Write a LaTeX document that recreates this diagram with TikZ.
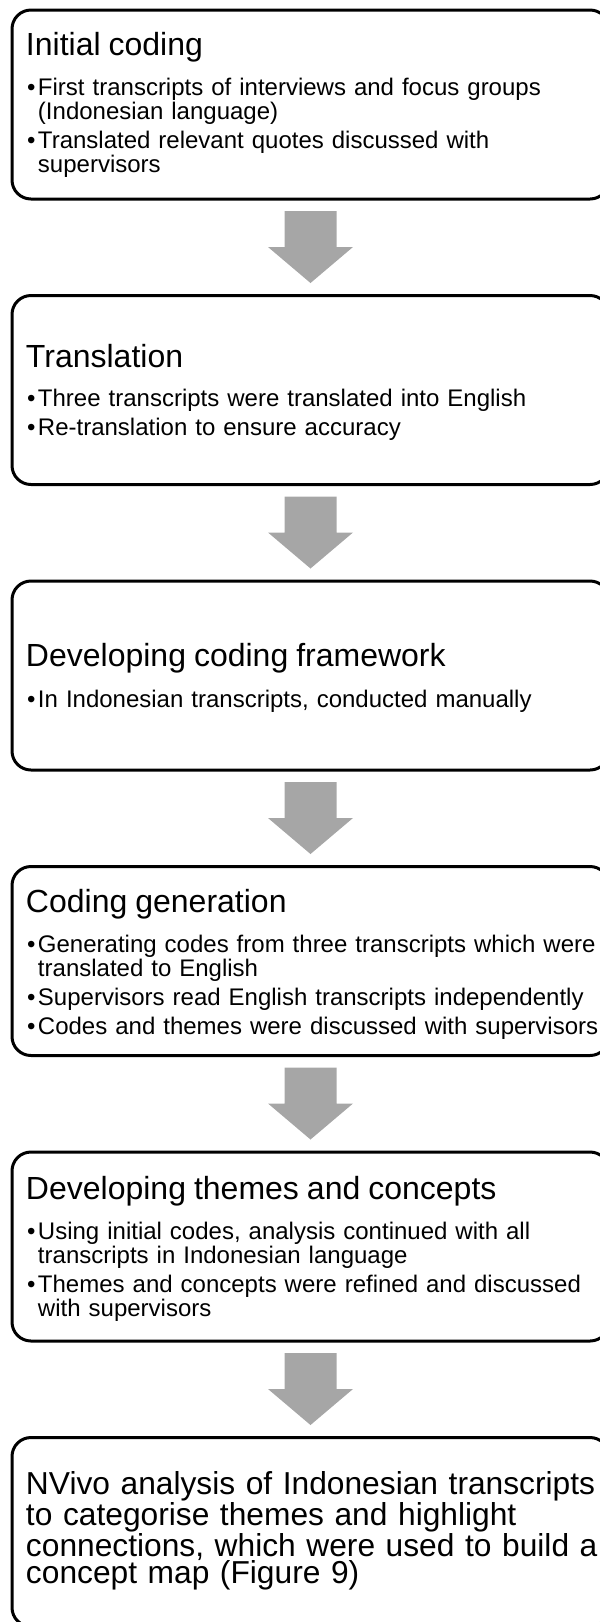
\documentclass[tikz,border=0pt]{standalone}
\usepackage{fontspec}
\setmainfont{Liberation Sans}
\usetikzlibrary{calc}

\definecolor{arrowgray}{RGB}{166,166,166}

% heading line inside a step box
\newcommand\steptitle[1]{{\fontsize{24pt}{28pt}\selectfont #1}}
% bullet with hanging text, and the indent of a wrapped bullet line
\newcommand\bulletitem{\hspace*{0.9pt}\makebox[8.1pt][l]{•}}
\newcommand\bulletcont{\hspace*{9pt}}
% block arrow from the bottom of one step to the top of the next
\newcommand\flowarrow[2]{%
  \fill[arrowgray]
    ($(#1.south)+(-26,12)$) -- ($(#1.south)+(26,12)$) --
    ($(#1.south)+(26,48)$) -- ($(#1.south)+(42.5,48)$) --
    ($(#2.north)+(0,-12.5)$) --
    ($(#1.south)+(-42.5,48)$) -- ($(#1.south)+(-26,48)$) -- cycle;}

\begin{document}
\begin{tikzpicture}[x=0.75pt,y=-0.75pt,
  stepbox/.style={draw=black, line width=2.25pt, rounded corners=14.25pt,
    fill=white, minimum width=447.75pt, minimum height=141.75pt,
    inner sep=0pt, outer sep=0pt, anchor=north west},
  steptext/.style={anchor=base west, text width=440pt, align=left,
    inner sep=0pt, outer sep=0pt, font=\fontsize{18pt}{18pt}\selectfont},
  bigtext/.style={steptext, font=\fontsize{23.8pt}{20.7pt}\selectfont}]

\useasboundingbox (0,0) rectangle (600,1622);
\clip (0,0) rectangle (600,1622);

% step boxes
\node[stepbox] (b1) at (12,10) {};
\node[stepbox] (b2) at (12,295.5) {};
\node[stepbox] (b3) at (12,581) {};
\node[stepbox] (b4) at (12,866.5) {};
\node[stepbox] (b5) at (12,1152) {};
\node[stepbox] (b6) at (12,1437.5) {};

% connectors
\flowarrow{b1}{b2}
\flowarrow{b2}{b3}
\flowarrow{b3}{b4}
\flowarrow{b4}{b5}
\flowarrow{b5}{b6}

% box contents
\node[steptext] (t1) at ($(b1.north west)+(14,45)$) {%
  \steptitle{Initial coding}\\[11.25pt]
  \bulletitem First transcripts of interviews and focus groups\\
  \bulletcont (Indonesian language)\\[3.75pt]
  \bulletitem Translated relevant quotes discussed with\\
  \bulletcont supervisors};

\node[steptext] (t2) at ($(b2.north west)+(14,71.5)$) {%
  \steptitle{Translation}\\[11.25pt]
  \bulletitem Three transcripts were translated into English\\[3.75pt]
  \bulletitem Re-translation to ensure accuracy};

\node[steptext] (t3) at ($(b3.north west)+(14,85.5)$) {%
  \steptitle{Developing coding framework}\\[12pt]
  \bulletitem In Indonesian transcripts, conducted manually};

\node[steptext] (t4) at ($(b4.north west)+(14,45.5)$) {%
  \steptitle{Coding generation}\\[11.25pt]
  \bulletitem Generating codes from three transcripts which were\\
  \bulletcont translated to English\\[3.75pt]
  \bulletitem Supervisors read English transcripts independently\\[3.75pt]
  \bulletitem Codes and themes were discussed with supervisors};

\node[steptext] (t5) at ($(b5.north west)+(14,47)$) {%
  \steptitle{Developing themes and concepts}\\[11.25pt]
  \bulletitem Using initial codes, analysis continued with all\\
  \bulletcont transcripts in Indonesian language\\[3.75pt]
  \bulletitem Themes and concepts were refined and discussed\\
  \bulletcont with supervisors};

\node[bigtext] (t6) at ($(b6.north west)+(14,57)$) {%
  NVivo analysis of Indonesian transcripts\\
  to categorise themes and highlight\\
  connections, which were used to build a\\
  concept map (Figure 9)};

\end{tikzpicture}
\end{document}
